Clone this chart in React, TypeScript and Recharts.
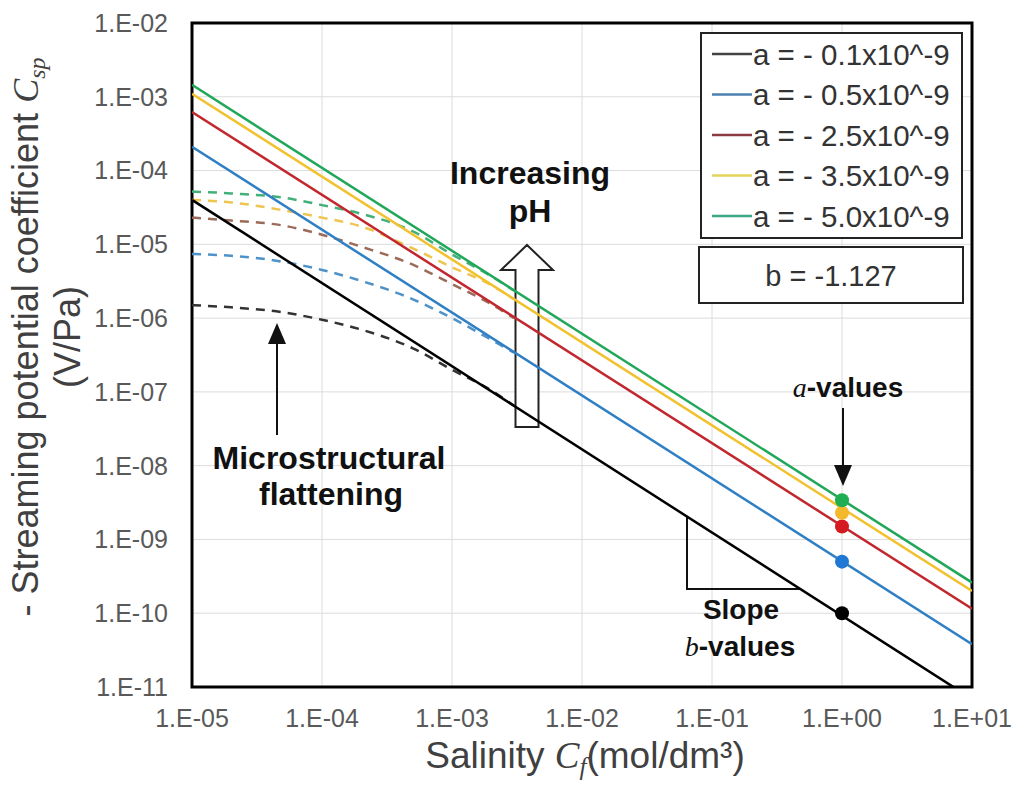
import {
  CartesianGrid,
  ComposedChart,
  Customized,
  Line,
  Scatter,
  XAxis,
  YAxis,
} from "recharts";

const SANS = '"Liberation Sans", Arial, sans-serif';
const SERIF = '"Liberation Serif", "Times New Roman", serif';

const X_TICKS = [1e-5, 1e-4, 1e-3, 1e-2, 1e-1, 1, 10];
const Y_TICKS = [1e-11, 1e-10, 1e-9, 1e-8, 1e-7, 1e-6, 1e-5, 1e-4, 1e-3, 1e-2];

const SERIES_NAMES = [
  "a = - 0.1x10^-9",
  "a = - 0.5x10^-9",
  "a = - 2.5x10^-9",
  "a = - 3.5x10^-9",
  "a = - 5.0x10^-9",
];

// power-law fits (straight on log-log), read at the plot edges
const FIT_X = [1e-5, 10];
const FIT_BLACK = [4.0e-5, 6.9e-12];
const FIT_BLUE = [2.1e-4, 3.8e-11];
const FIT_RED = [6.2e-4, 1.15e-10];
const FIT_YELLOW = [1.1e-3, 2.0e-10];
const FIT_GREEN = [1.45e-3, 2.6e-10];

// flattened curves at low salinity (dashed)
const FLAT_X = [1e-5, 2e-5, 5e-5, 1e-4, 2e-4, 5e-4, 1e-3, 2e-3, 3e-3];
const FLAT_BLACK = [1.5e-6, 1.4e-6, 1.2e-6, 9.5e-7, 7.0e-7, 3.9e-7, 2.0e-7, 1.05e-7, 6.5e-8];
const FLAT_BLUE = [7.4e-6, 7.0e-6, 5.8e-6, 4.5e-6, 3.2e-6, 1.8e-6, 1.0e-6, 5.1e-7, 3.4e-7];
const FLAT_RED = [2.3e-5, 2.1e-5, 1.8e-5, 1.35e-5, 9.3e-6, 5.3e-6, 2.9e-6, 1.55e-6, 1.0e-6];
const FLAT_YELLOW = [4.0e-5, 3.7e-5, 2.9e-5, 2.3e-5, 1.75e-5, 8.8e-6, 4.9e-6, 2.8e-6, 1.8e-6];
const FLAT_GREEN = [5.2e-5, 4.9e-5, 4.3e-5, 3.4e-5, 2.6e-5, 1.5e-5, 7.3e-6, 3.7e-6, 2.35e-6];

// a-values marked at Cf = 1
const A_X = 1;
const A_VALUES = [1.0e-10, 5.0e-10, 1.5e-9, 2.3e-9, 3.4e-9];

const FITS = [FIT_BLACK, FIT_BLUE, FIT_RED, FIT_YELLOW, FIT_GREEN];
const FLATS = [FLAT_BLACK, FLAT_BLUE, FLAT_RED, FLAT_YELLOW, FLAT_GREEN];

const LINE_COLORS = ["#000000", "#2f7fc4", "#c1272d", "#f2c12e", "#20a75a"];
const DASH_COLORS = ["#333333", "#4f92c8", "#9c6a58", "#eec54e", "#43b07a"];
const DOT_COLORS = ["#000000", "#1f78d4", "#d51a22", "#f4b82c", "#1fae52"];
const LEGEND_COLORS = ["#444444", "#4b80b0", "#8a3a40", "#e6d35a", "#3aa886"];

function formatSci(v: number) {
  const e = Math.round(Math.log10(v));
  const sign = e < 0 ? "-" : "+";
  return `1.E${sign}${String(Math.abs(e)).padStart(2, "0")}`;
}

function toPoints(xs: number[], ys: number[]) {
  return xs.map((x, i) => ({ x, y: ys[i] }));
}

function Arrow({ x, y1, y2 }: { x: number; y1: number; y2: number }) {
  // vertical arrow from y1 (tail) to y2 (tip)
  const dir = y2 < y1 ? 1 : -1;
  const base = y2 + dir * 21;
  return (
    <g>
      <line stroke="#111" strokeWidth={2} x1={x} x2={x} y1={y1} y2={base} />
      <path
        d={`M${x},${y2} L${x - 9},${base} L${x + 9},${base} Z`}
        fill="#111"
      />
    </g>
  );
}

function Overlay() {
  return (
    <g fontFamily={SANS}>
      <rect
        fill="none"
        height={664}
        stroke="#000"
        strokeWidth={3}
        width={780}
        x={192}
        y={23}
      />

      {/* legend */}
      <rect
        fill="#fff"
        height={205}
        stroke="#222"
        strokeWidth={2}
        width={261}
        x={701}
        y={33}
      />
      {SERIES_NAMES.map((name, i) => {
        const cy = 54 + i * 40.5;
        return (
          <g key={name}>
            <line
              stroke={LEGEND_COLORS[i]}
              strokeWidth={2.5}
              x1={712}
              x2={752}
              y1={cy}
              y2={cy}
            />
            <text
              dominantBaseline="central"
              fill="#333"
              fontSize={29.5}
              x={753}
              y={cy}
            >
              {name}
            </text>
          </g>
        );
      })}
      <rect
        fill="#fff"
        height={56}
        stroke="#222"
        strokeWidth={2}
        width={264}
        x={699}
        y={247}
      />
      <text
        dominantBaseline="central"
        fill="#333"
        fontSize={29}
        textAnchor="middle"
        x={831}
        y={276}
      >
        b = -1.127
      </text>

      {/* increasing pH */}
      <text fill="#111" fontSize={32} fontWeight="bold" textAnchor="middle" x={530} y={184}>
        Increasing
      </text>
      <text fill="#111" fontSize={32} fontWeight="bold" textAnchor="middle" x={530} y={222}>
        pH
      </text>
      <path
        d="M527,245 L553,270 L538.5,270 L538.5,427 L515.5,427 L515.5,270 L501,270 Z"
        fill="#fff"
        stroke="#222"
        strokeWidth={2}
      />

      {/* microstructural flattening */}
      <Arrow x={277} y1={435} y2={323} />
      <text fill="#111" fontSize={32} fontWeight="bold" textAnchor="middle" x={329} y={469}>
        Microstructural
      </text>
      <text fill="#111" fontSize={32} fontWeight="bold" textAnchor="middle" x={331} y={505}>
        flattening
      </text>

      {/* a-values */}
      <text fill="#111" fontSize={28} fontWeight="bold" textAnchor="middle" x={848} y={397}>
        <tspan fontFamily={SERIF} fontStyle="italic" fontWeight="normal">
          a
        </tspan>
        -values
      </text>
      <Arrow x={843} y1={408} y2={486} />

      {/* slope triangle */}
      <polyline
        fill="none"
        points="687,517 687,589 800,589"
        stroke="#111"
        strokeWidth={2}
      />
      <text fill="#111" fontSize={28} fontWeight="bold" textAnchor="middle" x={741} y={619}>
        Slope
      </text>
      <text fill="#111" fontSize={28} fontWeight="bold" textAnchor="middle" x={740} y={656}>
        <tspan fontFamily={SERIF} fontStyle="italic" fontWeight="normal">
          b
        </tspan>
        -values
      </text>

      {/* axis titles */}
      <text fill="#404040" fontSize={37} textAnchor="middle" x={585} y={768}>
        Salinity{" "}
        <tspan fontFamily={SERIF} fontStyle="italic">
          C
        </tspan>
        <tspan dy={7} fontFamily={SERIF} fontSize={25} fontStyle="italic">
          f
        </tspan>
        <tspan dy={-7}>(mol/dm³)</tspan>
      </text>
      <text
        fill="#404040"
        fontSize={36}
        textAnchor="middle"
        transform="translate(38,337) rotate(-90)"
      >
        - Streaming potential coefficient{" "}
        <tspan fontFamily={SERIF} fontStyle="italic">
          C
        </tspan>
        <tspan dy={7} fontFamily={SERIF} fontSize={24} fontStyle="italic">
          sp
        </tspan>
      </text>
      <text
        fill="#404040"
        fontSize={36}
        textAnchor="middle"
        transform="translate(80,337) rotate(-90)"
      >
        (V/Pa)
      </text>
    </g>
  );
}

export default function App() {
  return (
    <div
      style={{
        position: "absolute",
        left: 0,
        top: 0,
        width: 1014,
        height: 786,
        background: "#fff",
      }}
    >
      <ComposedChart
        height={786}
        margin={{ top: 23, right: 42, bottom: 0, left: 0 }}
        width={1014}
      >
        <CartesianGrid stroke="#dcdcdc" strokeWidth={1} />
        <XAxis
          allowDataOverflow
          axisLine={false}
          dataKey="x"
          domain={[1e-5, 10]}
          height={99}
          interval={0}
          scale="log"
          tick={{ fill: "#595959", fontSize: 25, fontFamily: SANS }}
          tickFormatter={formatSci}
          tickLine={false}
          tickMargin={22}
          tickSize={0}
          ticks={X_TICKS}
          type="number"
        />
        <YAxis
          allowDataOverflow
          axisLine={false}
          dataKey="y"
          domain={[1e-11, 1e-2]}
          interval={0}
          scale="log"
          tick={{ fill: "#595959", fontSize: 25, fontFamily: SANS }}
          tickFormatter={formatSci}
          tickLine={false}
          tickMargin={24}
          tickSize={0}
          ticks={Y_TICKS}
          type="number"
          width={192}
        />
        {FLATS.map((ys, i) => (
          <Line
            activeDot={false}
            data={toPoints(FLAT_X, ys)}
            dataKey="y"
            dot={false}
            isAnimationActive={false}
            key={`flat-${SERIES_NAMES[i]}`}
            stroke={DASH_COLORS[i]}
            strokeDasharray="9 7"
            strokeWidth={2.5}
            type="monotone"
          />
        ))}
        {FITS.map((ys, i) => (
          <Line
            activeDot={false}
            data={toPoints(FIT_X, ys)}
            dataKey="y"
            dot={false}
            isAnimationActive={false}
            key={`fit-${SERIES_NAMES[i]}`}
            stroke={LINE_COLORS[i]}
            strokeWidth={2.5}
            type="linear"
          />
        ))}
        {A_VALUES.map((v, i) => (
          <Scatter
            data={[{ x: A_X, y: v }]}
            isAnimationActive={false}
            key={`dot-${SERIES_NAMES[i]}`}
            shape={(p: any) => (
              <circle cx={p.cx} cy={p.cy} fill={DOT_COLORS[i]} r={7} />
            )}
          />
        ))}
        <Customized component={Overlay} />
      </ComposedChart>
    </div>
  );
}
